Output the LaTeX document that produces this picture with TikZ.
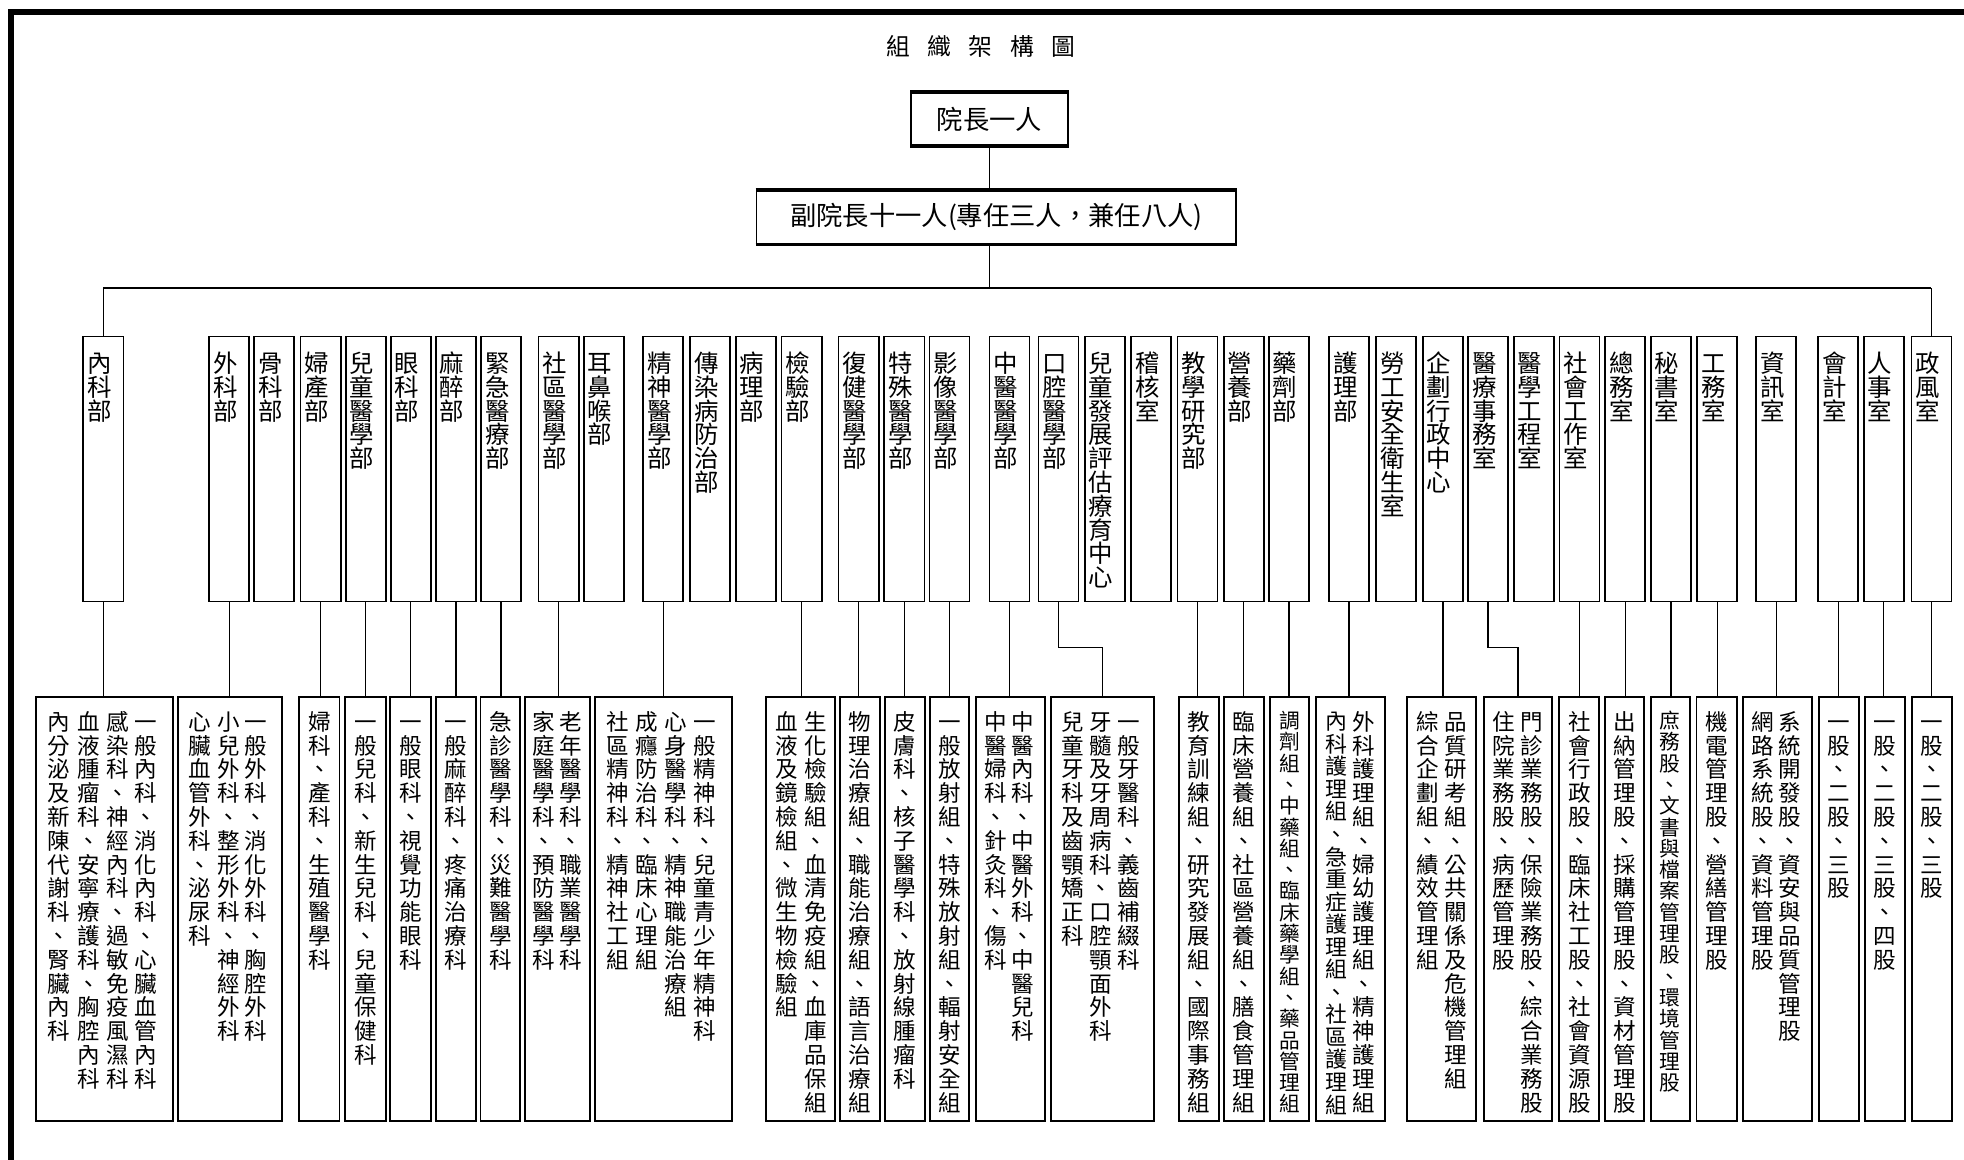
\documentclass[tikz,border=0pt]{standalone}
\usepackage{fontspec}
\setmainfont{Noto Sans CJK TC}
\usetikzlibrary{calc}
\makeatletter
\newcommand\vcol[2][19pt]{\vbox{\baselineskip=#1\relax\lineskiplimit=-\maxdimen\lineskip=0pt\relax
  \@tfor\vc@c:=#2\do{\hbox to 1em{\hss\vrule height .88em depth .12em width 0pt\vc@c\hss}}}}
\makeatother
\tikzset{
  deptbox/.style={draw, line width=1.4pt, minimum width=32pt, minimum height=211.5pt, anchor=north, inner sep=0pt},
  subbox/.style={draw, line width=1.4pt, minimum height=339pt, anchor=north, inner sep=0pt},
  dtext/.style={anchor=north, inner sep=0pt, font=\fontsize{19.5}{19}\selectfont},
  stext/.style={anchor=north, inner sep=0pt, font=\fontsize{18}{19}\selectfont},
  smtext/.style={anchor=north, inner sep=0pt, font=\fontsize{16.5}{17}\selectfont},
  topbox/.style={draw, line width=1.5pt, inner sep=0pt, font=\fontsize{21}{21}\selectfont},
  conn/.style={line width=1pt},
  frameline/.style={line width=4.8pt},
}
\newcommand\dept[3]{%
  \node[deptbox] (#1) at (#2,268) {};
  \node[dtext] (#1t) at (#2-3,280) {\vcol{#3}};}
\newcommand\subb[3]{%
  \node[subbox, minimum width=#3] (#1) at (#2,555.5) {};}
\newcommand\col[3]{%
  \node[stext] (#1) at (#2,567) {\vcol{#3}};}
\begin{document}
\begin{tikzpicture}[x=1pt,y=-1pt]
\useasboundingbox (0,0) rectangle (1568,926);
% frame
\draw[frameline] (6.4,9.6) -- (1568,9.6);
\draw[frameline] (8.8,7.2) -- (8.8,926);
% title
\node[font=\fontsize{19}{19}\selectfont, inner sep=0pt] (title) at (783,37)
  {組\hspace{14pt}織\hspace{14pt}架\hspace{14pt}構\hspace{14pt}圖};
% top boxes
\node[topbox, minimum width=125pt, minimum height=42pt] (p1) at (790,95) {院長一人};
\node[topbox, minimum width=383pt, minimum height=42pt] (p2) at (795.5,173.5) {副院長十一人(專任三人，兼任八人)};
\draw[line width=2.6pt] (p1.north west) -- (p1.north east);
\draw[line width=2.6pt] (p1.south west) -- (p1.south east);
\draw[line width=2.6pt] (p2.north west) -- (p2.north east);
\draw[line width=2.6pt] (p2.south west) -- (p2.south east);
% departments
\dept{d1}{82.5}{內科部}
\dept{d2}{183}{外科部}
\dept{d3}{219}{骨科部}
\dept{d4}{256}{婦產部}
\dept{d5}{292}{兒童醫學部}
\dept{d6}{328}{眼科部}
\dept{d7}{364}{麻醉部}
\dept{d8}{400}{緊急醫療部}
\dept{d9}{446}{社區醫學部}
\dept{d10}{482}{耳鼻喉部}
\dept{d11}{529.5}{精神醫學部}
\dept{d12}{567}{傳染病防治部}
\dept{d13}{603.5}{病理部}
\dept{d14}{640}{檢驗部}
\dept{d15}{685.5}{復健醫學部}
\dept{d16}{722}{特殊醫學部}
\dept{d17}{758}{影像醫學部}
\dept{d18}{806}{中醫醫學部}
\dept{d19}{845}{口腔醫學部}
\dept{d20}{882}{兒童發展評估療育中心}
\dept{d21}{919}{稽核室}
\dept{d22}{956}{教學研究部}
\dept{d23}{993}{營養部}
\dept{d24}{1029}{藥劑部}
\dept{d25}{1077}{護理部}
\dept{d26}{1114.5}{勞工安全衛生室}
\dept{d27}{1152}{企劃行政中心}
\dept{d28}{1188}{醫療事務室}
\dept{d29}{1224.5}{醫學工程室}
\dept{d30}{1261}{社會工作室}
\dept{d31}{1297.5}{總務室}
\dept{d32}{1334}{秘書室}
\dept{d33}{1371}{工務室}
\dept{d34}{1418}{資訊室}
\dept{d35}{1467.5}{會計室}
\dept{d36}{1504}{人事室}
\dept{d37}{1542}{政風室}
% sub boxes
\subb{sA}{83.25}{109.5}
\subb{sB}{183.65}{82.5}
\subb{sC}{255}{32}
\subb{sD}{291.65}{32.5}
\subb{sE}{327.6}{32.4}
\subb{sF}{363.8}{32}
\subb{sG}{399.4}{31.4}
\subb{sH}{445}{51.9}
\subb{sI}{529.55}{109.1}
\subb{sJ}{638.95}{55.3}
\subb{sK}{686.55}{31.9}
\subb{sL}{722.5}{32}
\subb{sM}{758.15}{31.3}
\subb{sN}{806.75}{55.1}
\subb{sO}{880.3}{82.4}
\subb{sP}{957.25}{31.9}
\subb{sQ}{993.35}{31.9}
\subb{sR}{1029.6}{31.4}
\subb{sS}{1078.15}{55.1}
\subb{sT}{1150.9}{54.8}
\subb{sU}{1212}{54.4}
\subb{sV}{1260.85}{31.9}
\subb{sW}{1297.1}{31.4}
\subb{sX}{1333.5}{31.4}
\subb{sY}{1370.5}{32}
\subb{sZ}{1418.85}{55.1}
\subb{sAA}{1468.25}{31.7}
\subb{sAB}{1505}{31.8}
\subb{sAC}{1542.15}{31.9}
% sub texts
\col{tA1}{116.3}{一般內科、消化內科、心臟血管內科}
\col{tA2}{94}{感染科、神經內科、過敏免疫風濕科}
\col{tA3}{70.8}{血液腫瘤科、安寧療護科、胸腔內科}
\col{tA4}{47.1}{內分泌及新陳代謝科、腎臟內科}
\col{tB1}{204.4}{一般外科、消化外科、胸腔外科}
\col{tB2}{182.6}{小兒外科、整形外科、神經外科}
\col{tB3}{159.7}{心臟血管外科、泌尿科}
\col{tC}{255}{婦科、產科、生殖醫學科}
\col{tD}{291.65}{一般兒科、新生兒科、兒童保健科}
\col{tE}{327.6}{一般眼科、視覺功能眼科}
\col{tF}{363.8}{一般麻醉科、疼痛治療科}
\col{tG}{399.4}{急診醫學科、災難醫學科}
\col{tH1}{456}{老年醫學科、職業醫學科}
\col{tH2}{434}{家庭醫學科、預防醫學科}
\col{tI1}{562.8}{一般精神科、兒童青少年精神科}
\col{tI2}{539.7}{心身醫學科、精神職能治療組}
\col{tI3}{516.5}{成癮防治科、臨床心理組}
\col{tI4}{493.4}{社區精神科、精神社工組}
\col{tJ1}{650.9}{生化檢驗組、血清免疫組、血庫品保組}
\col{tJ2}{628.3}{血液及鏡檢組、微生物檢驗組}
\col{tK}{686.55}{物理治療組、職能治療組、語言治療組}
\col{tL}{722.5}{皮膚科、核子醫學科、放射線腫瘤科}
\col{tM}{758.15}{一般放射組、特殊放射組、輻射安全組}
\col{tN1}{816.4}{中醫內科、中醫外科、中醫兒科}
\col{tN2}{794.6}{中醫婦科、針灸科、傷科}
\col{tO1}{901.5}{一般牙醫科、義齒補綴科}
\col{tO2}{878.5}{牙髓及牙周病科、口腔顎面外科}
\col{tO3}{856.1}{兒童牙科及齒顎矯正科}
\col{tP}{957.25}{教育訓練組、研究發展組、國際事務組}
\col{tQ}{993.35}{臨床營養組、社區營養組、膳食管理組}
\node[smtext] (tR) at (1029.6,567) {\vcol[17pt]{調劑組、中藥組、臨床藥學組、藥品管理組}};
\col{tS1}{1089}{外科護理組、婦幼護理組、精神護理組}
\node[stext, font=\fontsize{17.5}{18}\selectfont] (tS2) at (1066.6,567) {\vcol[18pt]{內科護理組、急重症護理組、社區護理組}};
\col{tT1}{1162.1}{品質研考組、公共關係及危機管理組}
\col{tT2}{1139.5}{綜合企劃組、績效管理組}
\col{tU1}{1222.8}{門診業務股、保險業務股、綜合業務股}
\col{tU2}{1200.7}{住院業務股、病歷管理股}
\col{tV}{1260.85}{社會行政股、臨床社工股、社會資源股}
\col{tW}{1297.1}{出納管理股、採購管理股、資材管理股}
\node[smtext] (tX) at (1333.5,567) {\vcol[17pt]{庶務股、文書與檔案管理股、環境管理股}};
\col{tY}{1370.5}{機電管理股、營繕管理股}
\col{tZ1}{1429}{系統開發股、資安與品質管理股}
\col{tZ2}{1407.7}{網路系統股、資料管理股}
\col{tAA}{1468.25}{一股、二股、三股}
\col{tAB}{1505}{一股、二股、三股、四股}
\col{tAC}{1542.15}{一股、二股、三股}
% connectors
\coordinate (bus) at (0,230);
\coordinate (jog) at (0,517);
\draw[conn] (p1.south) -- (p1.south |- p2.north);
\draw[conn] (p1.south |- p2.south) -- (p1.south |- bus);
\draw[line width=1.6pt] (d1.north |- bus) -- (d37.north |- bus);
\draw[conn] (d1.north |- bus) -- (d1.north);
\draw[conn] (d37.north |- bus) -- (d37.north);
\foreach \d/\s in {d1/sA,d2/sB,d4/sC,d5/sD,d6/sE,d7/sF,d8/sG,d9/sH,d11/sI,d14/sJ,d15/sK,d16/sL,d17/sM,d18/sN,d22/sP,d23/sQ,d24/sR,d25/sS,d27/sT,d30/sV,d31/sW,d32/sX,d33/sY,d34/sZ,d35/sAA,d36/sAB,d37/sAC}
  \draw[conn] (\d.south) -- (\d.south |- \s.north);
\draw[conn] (d19.south) -- (d19.south |- jog) -| (sO.north);
\draw[conn] (d28.south) -- (d28.south |- jog) -| (sU.north);
\end{tikzpicture}
\end{document}
